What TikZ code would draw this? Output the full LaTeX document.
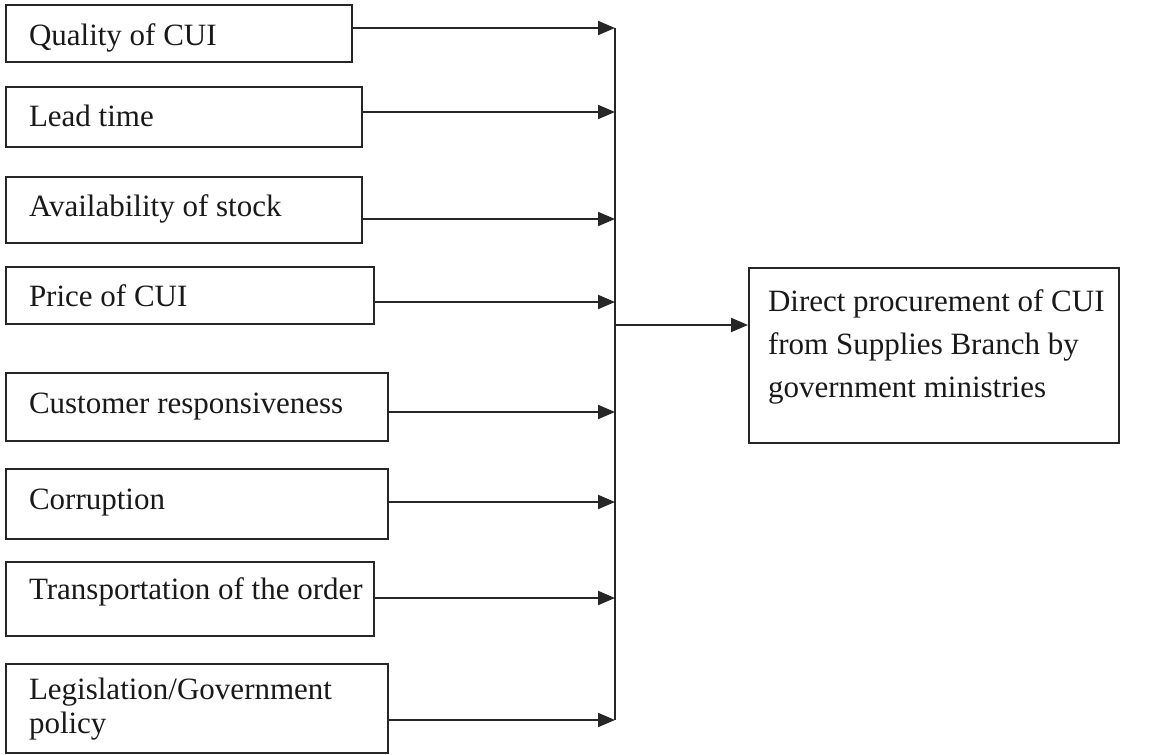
\documentclass[tikz,border=0pt]{standalone}
\usepackage{fontspec}
\setmainfont{Liberation Serif}
\usetikzlibrary{arrows.meta}
\newcommand{\boxtxt}[5]{\parbox[c][#1][t]{#2}{\raggedright\leftskip=#3\relax\rule{0pt}{#4}#5}}
\begin{document}
\begin{tikzpicture}[x=0.5pt,y=-0.5pt,
  fbox/.style={draw=black!85, line width=1pt, inner sep=0pt, anchor=north west, text=black!90, font=\fontsize{15.5}{17}\selectfont},
  outbox/.style={fbox, font=\fontsize{15.5}{21.5}\selectfont},
  conn/.style={draw=black!85, line width=1pt},
  arr/.style={conn, -{Triangle[length=8.5pt,width=7pt]}}]
\useasboundingbox (0,0) rectangle (1163,755);
\node[fbox] (b1) at (5,4)   {\boxtxt{28.5pt}{173pt}{11.5pt}{20.5pt}{Quality of CUI}};
\node[fbox] (b2) at (5,86)  {\boxtxt{30pt}{178pt}{11.5pt}{19.5pt}{Lead time}};
\node[fbox] (b3) at (5,176) {\boxtxt{33pt}{178pt}{11.5pt}{19.5pt}{Availability of stock}};
\node[fbox] (b4) at (5,266) {\boxtxt{28.5pt}{184pt}{11.5pt}{19.5pt}{Price of CUI}};
\node[fbox] (b5) at (5,372) {\boxtxt{34pt}{191pt}{11.5pt}{20pt}{Customer responsiveness}};
\node[fbox] (b6) at (5,468) {\boxtxt{35pt}{191pt}{11.5pt}{20pt}{Corruption}};
\node[fbox] (b7) at (5,561) {\boxtxt{37pt}{184pt}{11.5pt}{18.5pt}{Transportation of the order}};
\node[fbox] (b8) at (5,663) {\boxtxt{44.5pt}{191pt}{11.5pt}{17.5pt}{Legislation/Government\\policy}};
\node[outbox] (out) at (748,267) {\boxtxt{87.5pt}{185pt}{9.5pt}{21.5pt}{Direct procurement of CUI\\from Supplies Branch by\\government ministries}};
\coordinate (j1) at (615,28);
\coordinate (j2) at (615,112);
\coordinate (j3) at (615,219);
\coordinate (j4) at (615,302);
\coordinate (j5) at (615,412);
\coordinate (j6) at (615,502);
\coordinate (j7) at (615,598);
\coordinate (j8) at (615,720);
\coordinate (jo) at (615,325);
\draw[conn] (j1) -- (j8);
\foreach \i in {1,...,8} {\draw[arr] (b\i.east |- j\i) -- (j\i);}
\draw[arr] (jo) -- (out.west |- jo);
\end{tikzpicture}
\end{document}
